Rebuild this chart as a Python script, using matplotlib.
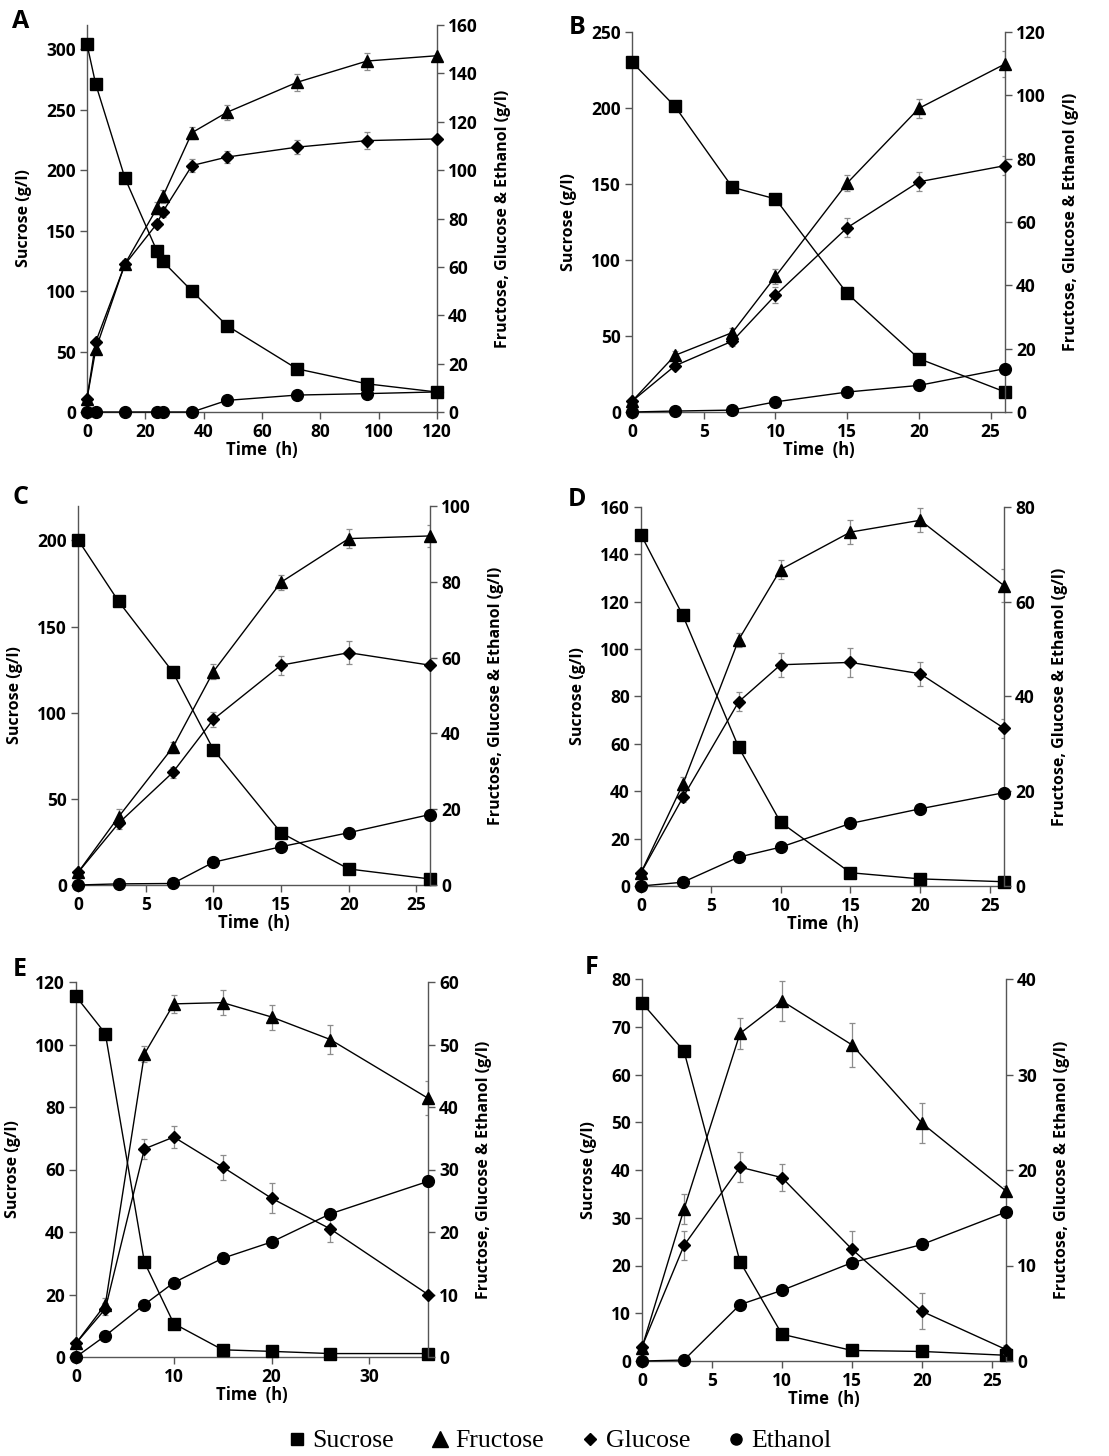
import matplotlib
matplotlib.use("Agg")
import matplotlib.pyplot as plt
from matplotlib.lines import Line2D
import numpy as np

plt.rcParams['font.family'] = ['Open Sans', 'DejaVu Sans']

# ---------------- data ----------------
# Panel A
tA = [0, 3, 13, 24, 26, 36, 48, 72, 96, 120]
sucA = [304, 271, 193.5, 133, 124.5, 100, 71.4, 35.7, 23.3, 16.5]
fruA = [5.5, 25.9, 61.2, 84.3, 89.1, 115.5, 123.9, 136.3, 145.1, 147.3]
gluA = [5.5, 29, 61, 77.9, 82.8, 101.9, 105.4, 109.5, 112.2, 112.9]
ethA = [0, 0, 0, 0, 0, 0, 4.8, 7.0, 7.6, 8.3]
fruA_err = [0, 0, 1.5, 2.5, 2.5, 2.5, 3, 3.5, 3.5, 0.5]
gluA_err = [0, 0, 1.5, 1.5, 2, 2.5, 2.5, 3, 3.5, 0.5]

# Panel B
tB = [0, 3, 7, 10, 15, 20, 26]
sucB = [230.2, 201, 147.8, 140.2, 78, 35.1, 13.2]
fruB = [3.4, 17.9, 25.1, 42.8, 72.3, 95.9, 109.9]
gluB = [3.4, 14.6, 22.4, 36.9, 58.2, 72.7, 77.8]
ethB = [0, 0.3, 0.6, 3.2, 6.3, 8.4, 13.7]
fruB_err = [0.5, 1.5, 1.5, 2.5, 2.5, 3, 4]
gluB_err = [0.5, 1, 1.5, 2.5, 3, 3, 3]

# Panel C
tC = [0, 3, 7, 10, 15, 20, 26]
sucC = [200.4, 164.6, 123.7, 78.6, 30.3, 9.3, 3.5]
fruC = [3.3, 18.0, 36.3, 56.3, 79.9, 91.4, 92.1]
gluC = [3.3, 16.3, 29.7, 43.7, 58.0, 61.3, 58.0]
ethC = [0, 0.3, 0.4, 6.0, 10.1, 13.8, 18.6]
fruC_err = [0.5, 2, 1.5, 2, 2, 2.5, 3]
gluC_err = [0.5, 1.5, 1.5, 2, 2.5, 3, 0.5]

# Panel D
tD = [0, 3, 7, 10, 15, 20, 26]
sucD = [148.3, 114.2, 58.5, 26.9, 5.6, 3.0, 1.8]
fruD = [2.8, 21.5, 52.0, 66.8, 74.7, 77.2, 63.4]
gluD = [2.8, 18.7, 38.9, 46.7, 47.2, 44.8, 33.3]
ethD = [0, 0.8, 6.1, 8.2, 13.2, 16.3, 19.7]
fruD_err = [0.5, 1.5, 1.5, 2, 2.5, 2.5, 3.5]
gluD_err = [0.5, 1, 2, 2.5, 3, 2.5, 2]

# Panel E
tE = [0, 3, 7, 10, 15, 20, 26, 36]
sucE = [115.4, 103.5, 30.3, 10.7, 2.3, 1.8, 1.1, 1.1]
fruE = [2.2, 8.4, 48.5, 56.5, 56.7, 54.4, 50.8, 41.4]
gluE = [2.2, 7.7, 33.3, 35.2, 30.4, 25.4, 20.5, 10.0]
ethE = [0, 3.4, 8.4, 11.9, 15.8, 18.4, 22.9, 28.1]
fruE_err = [0.3, 1, 1.3, 1.5, 2, 2, 2.3, 2.7]
gluE_err = [0.3, 1, 1.6, 1.8, 2, 2.4, 2.1, 0.3]

# Panel F
tF = [0, 3, 7, 10, 15, 20, 26]
sucF = [75.0, 64.9, 20.8, 5.6, 2.2, 2.0, 1.2]
fruF = [1.4, 15.9, 34.3, 37.7, 33.1, 24.9, 17.8]
gluF = [1.5, 12.1, 20.3, 19.2, 11.7, 5.2, 1.2]
ethF = [0, 0.1, 5.9, 7.4, 10.3, 12.2, 15.6]
fruF_err = [0.3, 1.6, 1.6, 2.1, 2.3, 2.1, 0.5]
gluF_err = [0.3, 1.5, 1.6, 1.4, 1.9, 1.9, 0.5]

panels = [
    ("A", tA, sucA, fruA, gluA, ethA, fruA_err, gluA_err),
    ("B", tB, sucB, fruB, gluB, ethB, fruB_err, gluB_err),
    ("C", tC, sucC, fruC, gluC, ethC, fruC_err, gluC_err),
    ("D", tD, sucD, fruD, gluD, ethD, fruD_err, gluD_err),
    ("E", tE, sucE, fruE, gluE, ethE, fruE_err, gluE_err),
    ("F", tF, sucF, fruF, gluF, ethF, fruF_err, gluF_err),
]

# axis settings per panel: (xmax, x step, left max, left step, right max, right step, last left tick)
limits = {
    "A": (120, 20, 320, 50, 160, 20, 300),
    "B": (26, 5, 250, 50, 120, 20, 250),
    "C": (26, 5, 220, 50, 100, 20, 200),
    "D": (26, 5, 160, 20, 80, 20, 160),
    "E": (36, 10, 120, 20, 60, 10, 120),
    "F": (26, 5, 80, 10, 40, 10, 80),
}

# pixel boxes: left, right, top, bottom
boxes = {
    "A": (87, 437, 25, 412),
    "B": (632, 1005, 32, 412),
    "C": (78, 430, 506, 885),
    "D": (641, 1004, 507, 886),
    "E": (76, 428, 982, 1357),
    "F": (642, 1006, 979, 1361),
}

# panel letter centres (pixels)
letters = {
    "A": (21, 22), "B": (577, 27), "C": (21, 498),
    "D": (577, 500), "E": (20, 969), "F": (592, 968),
}

W, H = 1109, 1456
fig = plt.figure(figsize=(W / 100, H / 100), dpi=100)

spine_col = '#555555'
err_col = '#8c8c8c'

for name, t, suc, fru, glu, eth, ferr, gerr in panels:
    l, r, top, b = boxes[name]
    ax = fig.add_axes([l / W, 1 - b / H, (r - l) / W, (b - top) / H])
    ax2 = ax.twinx()
    xmax, xstep, lmax, lstep, rmax, rstep, ltickmax = limits[name]

    ax.set_xlim(0, xmax)
    ax.set_ylim(0, lmax)
    ax2.set_ylim(0, rmax)
    ax.set_xticks(np.arange(0, xmax + 0.01, xstep))
    ax.set_yticks(np.arange(0, ltickmax + 0.01, lstep))
    ax2.set_yticks(np.arange(0, rmax + 0.01, rstep))

    for a in (ax, ax2):
        a.spines['top'].set_visible(False)
        for s in ('left', 'right', 'bottom'):
            a.spines[s].set_color(spine_col)
            a.spines[s].set_linewidth(1.0)
        a.tick_params(direction='out', length=5, width=1.0, color=spine_col,
                      labelsize=12.5, pad=3)
        for lab in a.get_xticklabels() + a.get_yticklabels():
            lab.set_fontweight('bold')
    ax.spines['right'].set_visible(False)
    ax2.spines['left'].set_visible(False)
    ax2.spines['bottom'].set_visible(False)

    ax.set_ylabel("Sucrose (g/l)", fontsize=11.5, fontweight='bold', labelpad=10)
    ax2.set_ylabel("Fructose, Glucose & Ethanol (g/l)", fontsize=11.5,
                   fontweight='bold', labelpad=12)
    ax.set_xlabel("Time  (h)", fontsize=12, fontweight='bold', labelpad=0)

    # error bars (grey) behind markers
    ax2.errorbar(t, fru, yerr=ferr, fmt='none', ecolor=err_col, elinewidth=0.9,
                 capsize=2.5, capthick=0.9, zorder=1)
    ax2.errorbar(t, glu, yerr=gerr, fmt='none', ecolor=err_col, elinewidth=0.9,
                 capsize=2.5, capthick=0.9, zorder=1)

    ax.plot(t, suc, color='black', lw=1.0, marker='s', markersize=8.5,
            clip_on=False, zorder=3)
    ax2.plot(t, fru, color='black', lw=1.0, marker='^', markersize=9,
             clip_on=False, zorder=3)
    ax2.plot(t, glu, color='black', lw=1.0, marker='D', markersize=6,
             clip_on=False, zorder=3)
    ax2.plot(t, eth, color='black', lw=1.0, marker='o', markersize=8.5,
             clip_on=False, zorder=3)

    lx, ly = letters[name]
    fig.text(lx / W, 1 - ly / H, name, fontsize=18,
             fontweight='bold', va='center', ha='center')

# legend at bottom
handles = [
    Line2D([], [], color='black', marker='s', linestyle='none', markersize=8),
    Line2D([], [], color='black', marker='^', linestyle='none', markersize=11),
    Line2D([], [], color='black', marker='D', linestyle='none', markersize=6.5),
    Line2D([], [], color='black', marker='o', linestyle='none', markersize=8),
]
fig.legend(handles, ["Sucrose", "Fructose", "Glucose", "Ethanol"],
           loc='center', bbox_to_anchor=(0.503, 1 - 1441 / H), ncol=4,
           frameon=False, prop={'family': 'Liberation Serif', 'size': 18.5},
           handletextpad=0.1, columnspacing=1.3, handlelength=1.0)

fig.savefig("out.png", dpi=100)
